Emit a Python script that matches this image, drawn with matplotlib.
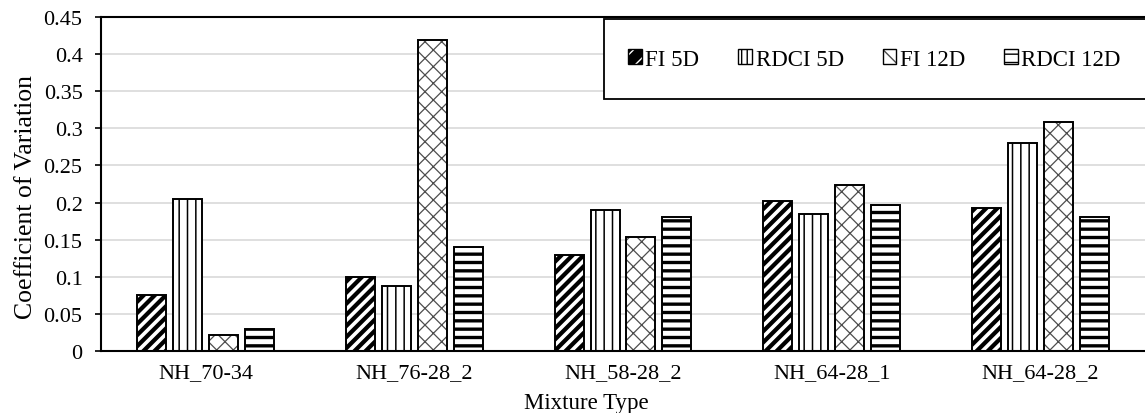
import matplotlib
matplotlib.use("Agg")
import matplotlib.pyplot as plt
import numpy as np
from matplotlib.patches import Rectangle, Patch
from matplotlib.legend_handler import HandlerTuple
from matplotlib.ticker import FuncFormatter, MultipleLocator

plt.rcParams['font.family'] = ['Liberation Serif', 'DejaVu Serif']

mixtures = ["NH_70-34", "NH_76-28_2", "NH_58-28_2", "NH_64-28_1", "NH_64-28_2"]
series_names = ["FI 5D", "RDCI 5D", "FI 12D", "RDCI 12D"]
fi_5d = [0.075, 0.100, 0.130, 0.202, 0.192]
rdci_5d = [0.205, 0.088, 0.190, 0.185, 0.280]
fi_12d = [0.021, 0.419, 0.154, 0.224, 0.308]
rdci_12d = [0.029, 0.140, 0.181, 0.197, 0.180]
series_values = [fi_5d, rdci_5d, fi_12d, rdci_12d]

# (face colour, hatch colour, hatch pattern, hatch line width)
styles = [
    ("black", "white", "///", 2.6),
    ("white", "black", "||", 1.1),
    ("white", "#4d4d4d", "xx", 0.9),
    ("white", "black", "--", 2.4),
]
# lighter patterns for the small legend keys
key_hatches = ["//", "|||", "x", "--"]


def hatched_patch(fc, hc, hatch, hlw):
    with plt.rc_context({'hatch.linewidth': hlw}):
        p = Patch(facecolor=fc, edgecolor=hc, hatch=hatch, linewidth=0)
    try:
        p.set_hatch_linewidth(hlw)
    except AttributeError:
        pass
    return p


W, H = 1145, 414
AX_L, AX_T, AX_B = 101, 18, 352
fig = plt.figure(figsize=(W / 100, H / 100), dpi=100)
ax = fig.add_axes([AX_L / W, 1 - AX_B / H, 1 - AX_L / W, (AX_B - AX_T) / H])

x = np.arange(len(mixtures))
bar_w = 0.139
step = 0.172
offsets = (np.arange(4) - 1.5) * step

handles = []
for vals, off, (fc, hc, hatch, hlw), key_hatch in zip(series_values, offsets, styles, key_hatches):
    with plt.rc_context({'hatch.linewidth': hlw}):
        bars = ax.bar(x + off, vals, width=bar_w, color=fc, edgecolor=hc,
                      hatch=hatch, linewidth=0, zorder=2)
        for b in bars:
            try:
                b.set_hatch_linewidth(hlw)
            except AttributeError:
                pass
    ax.bar(x + off, vals, width=bar_w, fill=False, edgecolor="black",
           linewidth=1.4, zorder=3)
    inner = hatched_patch(fc, hc, key_hatch, min(hlw, 1.6))
    outline = Patch(fill=False, edgecolor="black", linewidth=1.0)
    handles.append((inner, outline))

ax.set_xlim(-0.5, len(mixtures) - 0.5)
ax.set_ylim(0, 0.45)
ax.yaxis.set_major_locator(MultipleLocator(0.05))
ax.yaxis.set_major_formatter(FuncFormatter(lambda v, p: f"{v:.2f}".rstrip("0").rstrip(".")))
ax.set_xticks(x)
ax.set_xticklabels(mixtures)
ax.tick_params(axis="x", length=0, labelsize=16, pad=8.5)
ax.tick_params(axis="y", direction="out", length=4.3, width=1.2, labelsize=16, pad=9)

ax.grid(axis="y", color="#d9d9d9", linewidth=1.2, zorder=0)
ax.set_axisbelow(True)
for s in ["left", "bottom", "top"]:
    ax.spines[s].set_color("black")
    ax.spines[s].set_linewidth(1.5)
ax.spines["right"].set_visible(False)

ax.set_xlabel("Mixture Type", fontsize=16.5, va="baseline")
ax.xaxis.set_label_coords(0.465, (AX_B - 409) / (AX_B - AX_T))
ax.set_ylabel("Coefficient of Variation", fontsize=18.5)
ax.yaxis.set_label_coords((37 - AX_L) / (W - AX_L), 0.4626)

# legend box in the upper right
box = Rectangle((604 / W, 1 - 100 / H), (W + 5 - 604) / W, 80 / H,
                transform=fig.transFigure, facecolor="white", edgecolor="black",
                linewidth=1.3, zorder=5)
fig.patches.append(box)
leg = fig.legend(handles, series_names, loc="center",
                 bbox_to_anchor=((604 + 1145) / 2 / W, 1 - 60 / H),
                 ncol=4, frameon=False, fontsize=16.5, handlelength=0.6,
                 handleheight=0.6, handletextpad=0.15, columnspacing=1.7,
                 handler_map={tuple: HandlerTuple(ndivide=1)})
leg.set_zorder(6)

fig.savefig("out.png", dpi=100)
